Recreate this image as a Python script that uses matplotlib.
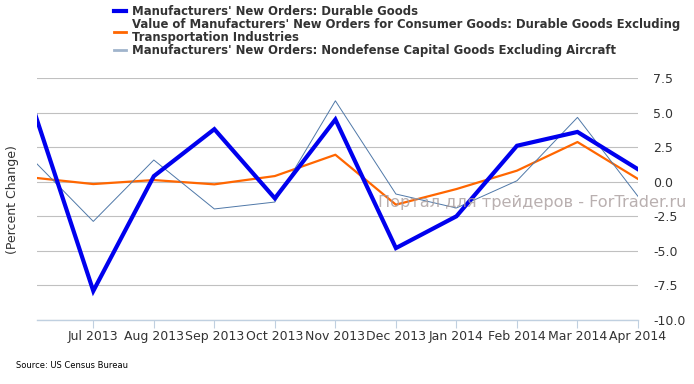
import numpy as np
import matplotlib as mpl
mpl.use('Agg')
import matplotlib.pyplot as plt

# Monthly percent change, Jun 2013 .. Apr 2014
months = ['Jun 2013', 'Jul 2013', 'Aug 2013', 'Sep 2013', 'Oct 2013', 'Nov 2013',
          'Dec 2013', 'Jan 2014', 'Feb 2014', 'Mar 2014', 'Apr 2014']
durable = [5.4, -7.9, 0.4, 3.8, -1.2, 4.5, -4.8, -2.5, 2.6, 3.6, 0.9]
consumer_ex_trans = [0.3, -0.17, 0.12, -0.19, 0.41, 1.95, -1.66, -0.53, 0.8, 2.87, 0.2]
capital_ex_air = [1.6, -2.87, 1.57, -1.97, -1.47, 5.85, -0.89, -1.9, 0.07, 4.65, -1.06]

lab_durable = "Manufacturers' New Orders: Durable Goods"
lab_consumer = ("Value of Manufacturers' New Orders for Consumer Goods: Durable Goods Excluding\n"
                "Transportation Industries")
lab_capital = "Manufacturers' New Orders: Nondefense Capital Goods Excluding Aircraft"

x = np.arange(len(months))

fig = plt.figure(figsize=(6.94, 3.84), dpi=100)
ax = fig.add_axes([37/694, 1 - 320/384, (638 - 37)/694, (320 - 78)/384])

l1, = ax.plot(x, durable, color='#0000ee', lw=3.0, solid_joinstyle='miter', zorder=3)
l2, = ax.plot(x, consumer_ex_trans, color='#ff6600', lw=1.6, zorder=2)
l3, = ax.plot(x, capital_ex_air, color='#4f78a8', lw=0.7, zorder=2)

ax.set_xlim(0.07, 10)
ax.set_ylim(-10, 7.5)
ax.set_yticks([-10, -7.5, -5, -2.5, 0, 2.5, 5, 7.5])
ax.set_yticklabels(['%.1f' % v for v in ax.get_yticks()])
ax.set_xticks(x[1:])
ax.set_xticklabels(months[1:])

ax.yaxis.tick_right()
ax.tick_params(axis='y', length=0, pad=11, labelsize=9, labelcolor='#333333')
for lbl in ax.get_yticklabels():
    lbl.set_horizontalalignment('left')
ax.tick_params(axis='x', length=6, width=0.8, color='#c0d0e0', pad=1,
               labelsize=9, labelcolor='#333333')

ax.grid(axis='y', color='#c0c0c0', lw=0.8)
ax.set_axisbelow(True)
for s in ['top', 'left', 'right']:
    ax.spines[s].set_visible(False)
ax.spines['bottom'].set_color('#c0d0e0')
ax.spines['bottom'].set_linewidth(1)

fig.text(13/694, 1 - 200/384, '(Percent Change)', rotation=90, va='center', ha='center',
         fontsize=9, color='#333333')

# watermark
fig.text(378/694, 1 - 203/384, 'Портал для трейдеров - ForTrader.ru', fontsize=11.6,
         color='#a89c9c', alpha=0.8, va='center', ha='left', zorder=5)

fig.text(16/694, 1 - 366/384, 'Source: US Census Bureau', fontsize=6, color='#000000',
         va='center')

leg_lines = [l1, l2, plt.Line2D([], [], color='#a0b4cc', lw=2)]
leg = fig.legend(leg_lines, [lab_durable, lab_consumer, lab_capital],
                 loc='upper left', bbox_to_anchor=(114/694, 1 - 5/384),
                 frameon=False, handlelength=1.0, handletextpad=0.5,
                 labelspacing=0.0, borderpad=0, borderaxespad=0,
                 prop={'weight': 'bold', 'size': 8.4})
for t in leg.get_texts():
    t.set_color('#333333')
    t.set_linespacing(1.0)
leg.get_lines()[0].set_linewidth(3)
leg.get_lines()[1].set_linewidth(2)

fig.savefig('out.png', dpi=100)
